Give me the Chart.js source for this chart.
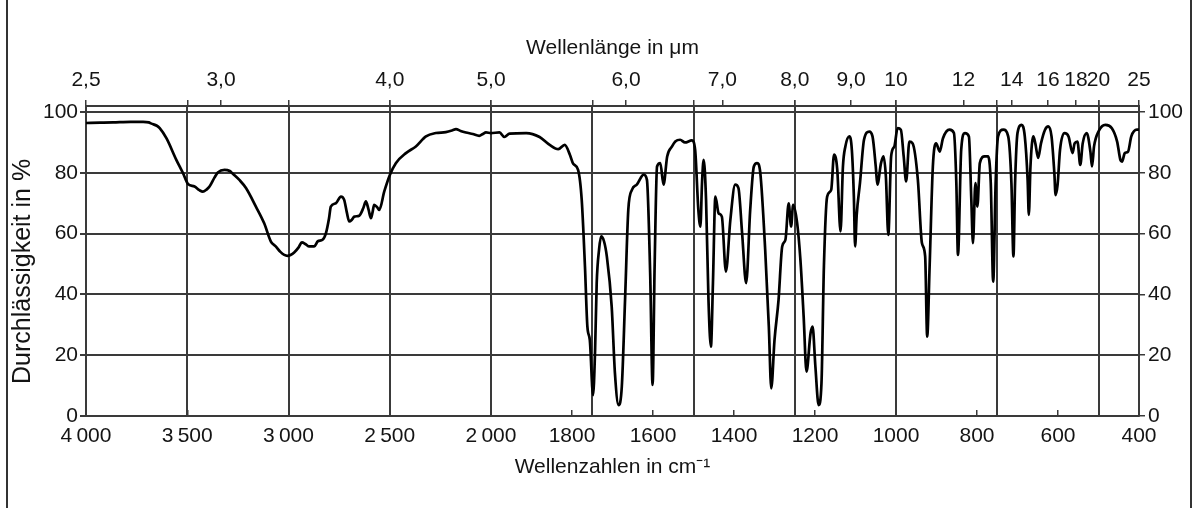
<!DOCTYPE html>
<html>
<head>
<meta charset="utf-8">
<script src="https://cdn.jsdelivr.net/npm/chart.js@4"></script>
<style>
  html, body { margin: 0; padding: 0; background: #fff; }
  #wrap { position: relative; width: 1195px; height: 508px; }
  #frame { position: absolute; left: 6px; top: 0; width: 1182px; height: 508px;
           border-left: 2px solid #333; border-right: 2px solid #333; pointer-events: none; }
</style>
</head>
<body>
<div id="wrap">
  <canvas id="myChart" width="1195" height="508"></canvas>
  <div id="frame"></div>
</div>
<script>
// IR spectrum, wavenumber (cm-1) vs transmission (%)
const wavenumbers = [
  4000, 3930, 3866, 3780, 3718, 3690, 3677, 3650, 3636, 3603, 3554, 3521, 3497, 3464, 3440, 3423,
  3405, 3390, 3365, 3349, 3316, 3290, 3275, 3240, 3210, 3161, 3120, 3087, 3063, 3040, 3021, 3005,
  2990, 2972, 2950, 2934, 2915, 2898, 2873, 2855, 2832, 2815, 2800, 2791, 2766, 2741, 2725, 2712,
  2700, 2688, 2675, 2651, 2630, 2618, 2605, 2593, 2585, 2577, 2560, 2552, 2527, 2499, 2470, 2420,
  2371, 2321, 2272, 2223, 2190, 2173, 2150, 2124, 2090, 2058, 2040, 2025, 2000,
  1979, 1967, 1954, 1913, 1880, 1855, 1834, 1818, 1805, 1797, 1785, 1776, 1768, 1762, 1756, 1748,
  1743, 1739, 1733, 1728, 1721, 1714, 1702, 1694, 1685, 1677, 1669, 1661, 1652, 1640, 1623, 1615,
  1607, 1601, 1596, 1590, 1582, 1574, 1565, 1553, 1545, 1533, 1521, 1504, 1496, 1488, 1483, 1479,
  1475, 1469, 1463, 1457, 1452, 1446, 1438, 1430, 1420, 1409, 1397, 1389, 1380, 1370, 1360, 1351,
  1343, 1335, 1323, 1314, 1308, 1300, 1290, 1281, 1273, 1265, 1259, 1254, 1244, 1236, 1228, 1221,
  1211, 1206, 1199, 1191, 1184, 1178, 1170, 1160, 1153, 1145, 1137, 1131, 1125, 1115, 1109, 1104,
  1101, 1097, 1089, 1079, 1066, 1058, 1050, 1046, 1037, 1031, 1025, 1019, 1012, 1004, 996, 988,
  981, 975, 967, 959, 946, 936, 928, 923, 917, 909, 901, 892, 884, 868, 857, 851,
  847, 839, 830, 820, 814, 810, 804, 799, 793, 781, 773, 766, 760, 754, 748, 735,
  723, 715, 710, 706, 700, 690, 682, 675, 672, 668, 661, 656, 649, 642, 632, 624,
  616, 609, 606, 601, 595, 584, 574, 564, 559, 552, 545, 539, 529, 520, 516, 511,
  500, 483, 467, 454, 446, 442, 435, 427, 419, 405, 400
];
const transmission = [
  96.4, 96.5, 96.6, 96.8, 96.8, 96.6, 96.2, 95.5, 94.7, 91.4, 84.3, 79.9, 76.4, 75.5, 74.3, 73.8,
  74.5, 75.5, 78.5, 80.1, 81.0, 80.6, 79.7, 77.5, 75.0, 68.9, 63.4, 57.4, 55.8, 54.0, 53.0, 52.7,
  53.0, 53.8, 55.5, 57.1, 56.5, 55.8, 55.8, 57.5, 58.0, 60.2, 65.0, 68.9, 70.0, 72.2, 71.1, 67.0,
  64.0, 64.5, 65.6, 65.9, 68.5, 70.6, 68.0, 65.1, 67.0, 69.5, 68.5, 67.8, 73.9, 79.4, 83.2, 86.5,
  88.7, 92.0, 93.1, 93.4, 94.0, 94.4, 93.8, 93.3, 92.8, 92.2, 92.8, 93.3, 93.1,
  93.3, 91.8, 92.9, 93.1, 91.8, 89.2, 87.8, 89.2, 85.9, 83.0, 81.0, 71.1, 49.2, 29.4, 25.0, 6.9,
  21.7, 43.7, 55.0, 59.1, 57.5, 52.5, 36.0, 14.1, 3.6, 9.7, 38.2, 67.8, 74.4, 76.1, 79.4, 77.7,
  47.0, 10.2, 49.2, 82.1, 83.2, 76.1, 85.4, 88.7, 90.3, 90.9, 90.0, 90.7, 87.6, 67.8, 62.3, 76.6,
  84.3, 71.1, 38.2, 22.8, 43.7, 72.2, 66.7, 65.6, 47.5, 64.5, 76.1, 75.0, 60.2, 43.7, 67.8, 82.1,
  83.2, 79.9, 54.7, 29.4, 9.1, 25.0, 38.2, 55.8, 58.0, 70.0, 62.3, 69.5, 63.4, 51.4, 32.7, 14.6,
  27.2, 29.4, 16.2, 3.6, 10.8, 49.2, 72.2, 74.4, 86.0, 81.0, 60.7, 82.1, 88.7, 92.0, 87.5, 72.0,
  55.8, 66.2, 76.6, 90.9, 93.6, 92.0, 82.1, 76.1, 83.2, 85.4, 78.8, 59.6, 85.4, 88.7, 94.7, 94.2,
  85.4, 77.2, 90.3, 89.7, 77.7, 56.9, 52.5, 26.1, 49.2, 82.1, 89.7, 87.0, 91.4, 94.2, 93.1, 76.6,
  53.0, 87.6, 93.1, 92.0, 71.1, 56.9, 76.6, 68.9, 83.2, 85.4, 85.4, 76.6, 44.2, 76.6, 92.0, 94.2,
  92.0, 76.6, 52.5, 76.6, 93.1, 95.8, 92.0, 77.7, 66.2, 82.1, 92.0, 89.7, 84.9, 89.7, 94.2, 95.3,
  92.0, 79.9, 72.7, 76.1, 87.6, 93.1, 92.0, 86.5, 89.7, 90.3, 82.6, 89.7, 93.1, 87.0, 82.1, 88.7,
  93.6, 95.8, 94.7, 90.3, 84.3, 83.7, 86.5, 87.0, 92.0, 94.2, 94.2
];

const bottomTicks = [4000, 3500, 3000, 2500, 2000, 1800, 1600, 1400, 1200, 1000, 800, 600, 400];
const bottomTickLabels = ['4\u2009000', '3\u2009500', '3\u2009000', '2\u2009500', '2\u2009000',
  '1800', '1600', '1400', '1200', '1000', '800', '600', '400'];
const gridWavenumbers = [3500, 3000, 2500, 2000, 1750, 1500, 1250, 1000, 750, 500];
const wavelengths = [2.5, 3, 4, 5, 6, 7, 8, 9, 10, 12, 14, 16, 18, 20, 25];
const wavelengthLabels = ['2,5', '3,0', '4,0', '5,0', '6,0', '7,0', '8,0', '9,0',
  '10', '12', '14', '16', '18', '20', '25'];
const yTicks = [0, 20, 40, 60, 80, 100];

// spectrometer scale: 500 cm-1 per division above 2000, 250 cm-1 per division below
function toPos(w) {
  return w >= 2000 ? (4000 - w) / 500 : 4 + (2000 - w) / 250;
}

const xMax = toPos(400);
const yMax = 102;
const FONT = 'Liberation Sans, Arial, Helvetica, sans-serif';
const TXT = '#141414';
const LINE = '#3a3a3a';

const points = wavenumbers.map(function (w, i) {
  return { x: toPos(w), y: transmission[i] };
});

// top axis: wavelength ticks plus short marks where the grid lines reach the top
const topPos = wavelengths.map(function (l) { return toPos(10000 / l); })
  .concat(gridWavenumbers.map(toPos));
const topText = wavelengthLabels.concat(gridWavenumbers.map(function () { return ''; }));

const data = {
  datasets: [{
    label: 'Durchlässigkeit',
    data: points,
    borderColor: '#000',
    borderWidth: 2.7,
    pointRadius: 0,
    fill: false,
    cubicInterpolationMode: 'monotone',
    xAxisID: 'x',
    yAxisID: 'y'
  }]
};

const config = {
  type: 'line',
  data: data,
  options: {
    responsive: false,
    animation: false,
    layout: { padding: 0 },
    plugins: {
      legend: { display: false },
      tooltip: { enabled: false }
    },
    scales: {
      x: {
        type: 'linear',
        position: 'bottom',
        min: 0,
        max: xMax,
        afterBuildTicks: function (s) {
          s.ticks = bottomTicks.map(function (w) { return { value: toPos(w) }; });
        },
        afterFit: function (s) { s.height = 92; },
        ticks: {
          autoSkip: false,
          maxRotation: 0,
          padding: 14,
          color: TXT,
          font: { family: FONT, size: 21 },
          callback: function (v, i) { return bottomTickLabels[i]; }
        },
        grid: { drawOnChartArea: false, tickLength: -6, color: LINE, lineWidth: 1.5 },
        border: { color: LINE, width: 2 },
        title: {
          display: true,
          text: 'Wellenzahlen in cm\u207B\u00B9',
          color: TXT,
          font: { family: FONT, size: 21 },
          padding: { top: 0, bottom: 28 }
        }
      },
      xg: {
        type: 'linear',
        position: 'bottom',
        min: 0,
        max: xMax,
        afterBuildTicks: function (s) {
          s.ticks = gridWavenumbers.map(function (w) { return { value: toPos(w) }; });
        },
        afterFit: function (s) { s.height = 0; },
        ticks: { display: false },
        grid: { drawTicks: false, color: LINE, lineWidth: 2 },
        border: { display: false }
      },
      xTop: {
        type: 'linear',
        position: 'top',
        min: 0,
        max: xMax,
        afterBuildTicks: function (s) {
          s.ticks = topPos.map(function (p) { return { value: p }; });
        },
        afterFit: function (s) { s.height = 106; },
        ticks: {
          autoSkip: false,
          maxRotation: 0,
          padding: 7,
          color: TXT,
          font: { family: FONT, size: 21 },
          callback: function (v, i) { return topText[i]; }
        },
        grid: { drawOnChartArea: false, tickLength: 6, color: LINE, lineWidth: 1.5 },
        border: { color: LINE, width: 2 },
        title: {
          display: true,
          text: 'Wellenlänge in μm',
          color: TXT,
          font: { family: FONT, size: 21 },
          padding: { top: 36, bottom: 0 }
        }
      },
      y: {
        type: 'linear',
        position: 'left',
        min: 0,
        max: yMax,
        afterBuildTicks: function (s) {
          s.ticks = yTicks.map(function (v) { return { value: v }; });
        },
        afterFit: function (s) { s.width = 86; },
        ticks: {
          padding: 2,
          color: TXT,
          font: { family: FONT, size: 21 }
        },
        grid: { color: LINE, lineWidth: 2, tickLength: 6 },
        border: { color: LINE, width: 2 },
        title: {
          display: true,
          text: 'Durchlässigkeit in %\u00A0\u00A0\u00A0',
          color: TXT,
          font: { family: FONT, size: 25 },
          padding: { top: 8, bottom: 0 }
        }
      },
      y2: {
        type: 'linear',
        position: 'right',
        min: 0,
        max: yMax,
        afterBuildTicks: function (s) {
          s.ticks = yTicks.map(function (v) { return { value: v }; });
        },
        afterFit: function (s) { s.width = 56; },
        ticks: {
          padding: 3,
          color: TXT,
          font: { family: FONT, size: 21 }
        },
        grid: { drawOnChartArea: false, color: LINE, lineWidth: 1.5, tickLength: 6 },
        border: { color: LINE, width: 2 }
      }
    }
  }
};

const ctx = document.getElementById('myChart');
new Chart(ctx, config);
</script>
</body>
</html>
